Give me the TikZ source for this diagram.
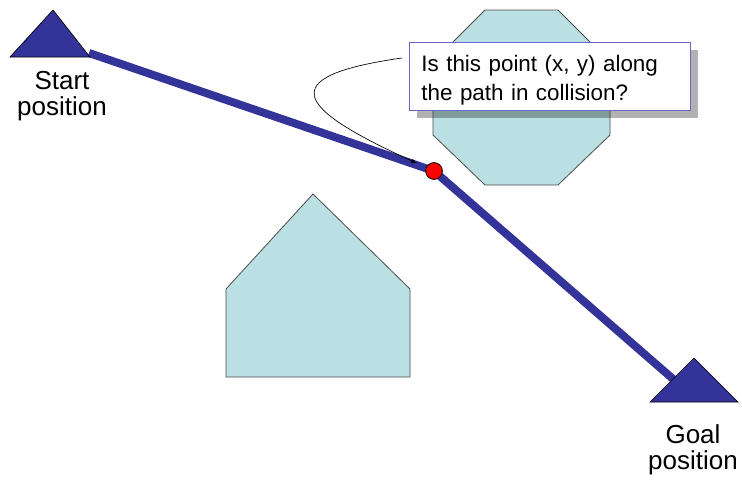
\documentclass[tikz,border=0pt]{standalone}
\usepackage{fontspec}
\setmainfont{Liberation Sans}
\usetikzlibrary{arrows.meta,shadows}
\definecolor{routeblue}{RGB}{51,51,153}
\definecolor{obstfill}{RGB}{187,224,227}
\definecolor{boxline}{RGB}{102,102,204}

\begin{document}
\begin{tikzpicture}[x=0.75pt,y=-0.75pt,>=latex,
  obst/.style={fill=obstfill,draw=black!70,line width=0.6pt},
  marker/.style={fill=routeblue,draw=black,line width=0.5pt},
  route/.style={draw=routeblue,line width=6pt,line join=round},
  lbl/.style={align=center,inner sep=0pt,font=\fontsize{19.5}{19.5}\selectfont},
  query/.style={draw=boxline,fill=white,line width=0.6pt,align=left,
    text width=192.75pt,inner xsep=9pt,inner ysep=0pt,
    text height=21.75pt,text depth=29.25pt,font=\fontsize{16.8}{22}\selectfont,
    drop shadow={shadow xshift=6pt,shadow yshift=-6pt,fill=black,opacity=0.3}},
  dot/.style={circle,fill=red,draw=black,line width=0.5pt,inner sep=0pt,minimum size=12.5pt}]
  \useasboundingbox (0,0) rectangle (742,479);
  % obstacles
  \draw[obst] (485,10) -- (558,10) -- (610,62) -- (610,135) -- (558,185)
    -- (485,185) -- (433,135) -- (433,62) -- cycle;
  \draw[obst] (313,194) -- (410,289) -- (410,377) -- (226,377) -- (226,289) -- cycle;
  % path from start to goal
  \coordinate (s) at (89,53);
  \coordinate (g) at (688,392);
  \node[dot] (p) at (434,171) {};
  \draw[route] (s) -- (p.center) -- (g);
  \node[dot] at (p) {};
  \draw[marker] (10,57) -- (90,57) -- (53,10) -- cycle;
  \draw[marker] (650,402) -- (738,402) -- (694,358) -- cycle;
  \node[lbl,anchor=north] (start) at (62,71) {Start\\position};
  \node[lbl,anchor=north] (goal) at (693,424) {Goal\\position};
  % the question
  \node[query,anchor=north west] (q) at (409,42) {Is this point (x, y) along\\the path in collision?};
  \coordinate (qs) at (402,58);
  \draw[->,line width=0.5pt,shorten >=7.5pt] (qs) .. controls (268,77) and (300,110) .. (p);
\end{tikzpicture}
\end{document}
